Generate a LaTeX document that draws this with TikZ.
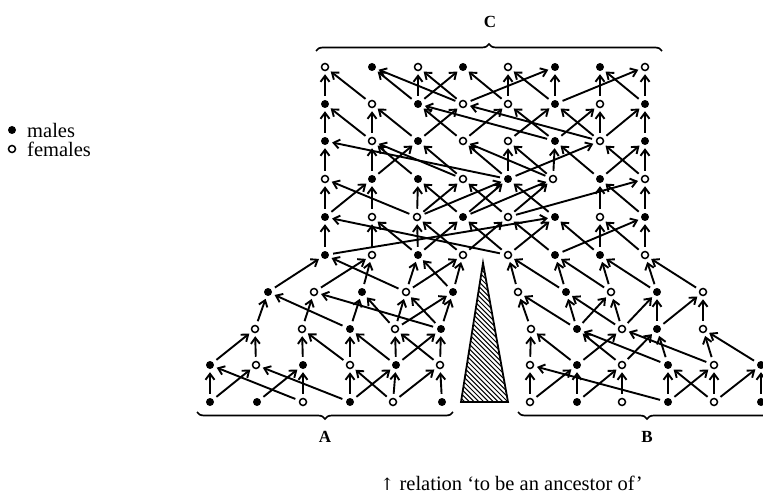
\documentclass[tikz,border=0pt]{standalone}
\usepackage{fontspec}
\setmainfont{Liberation Serif}
\newfontfamily\arrowfont{DejaVu Serif}
\usetikzlibrary{arrows.meta,decorations.pathreplacing}
\begin{document}
\begin{tikzpicture}[x=1pt,y=-1pt,
  fem/.style={circle,draw,line width=1.5pt,inner sep=0pt,minimum size=7pt,fill=white},
  mal/.style={circle,fill,inner sep=0pt,minimum size=8pt},
  anc/.style={line width=1.9pt,-{Straight Barb[length=6pt,width=9pt]},shorten <=4pt,shorten >=3pt},
  brc/.style={line width=1.7pt,decorate,decoration={brace,amplitude=7pt}},
  lbl/.style={font=\fontsize{17}{19}\selectfont\bfseries},
  txt/.style={font=\fontsize{20.5}{24}\selectfont,inner sep=0pt}
]
\useasboundingbox (0,0) rectangle (763,497);
% ---------- top block C ----------
\foreach \n/\s/\x/\y in {
 T11/fem/325/67,T12/mal/372/67,T13/fem/418/67,T14/mal/463/67,T15/fem/508/67,T16/mal/555/67,T17/mal/600/67,T18/fem/645/67,
 T21/mal/325/104,T22/fem/372/104,T23/mal/418/104,T24/fem/463/104,T25/fem/508/104,T26/mal/555/104,T27/fem/600/104,T28/mal/645/104,
 T31/mal/325/141,T32/fem/372/141,T33/mal/418/141,T34/fem/463/141,T35/fem/508/141,T36/mal/555/141,T37/fem/600/141,T38/mal/645/141,
 T41/fem/325/179,T42/mal/372/179,T43/mal/418/179,T44/fem/463/179,T45/mal/508/179,T46/fem/553/179,T47/mal/600/179,T48/fem/645/179,
 T51/mal/325/217,T52/fem/372/217,T53/fem/417/217,T54/mal/463/217,T55/fem/508/217,T56/mal/555/217,T57/fem/600/217,T58/mal/645/217,
 T61/mal/325/255,T62/fem/372/255,T63/mal/418/255,T64/fem/463/255,T65/fem/508/255,T66/mal/555/255,T67/mal/600/255,T68/fem/645/255,
% ---------- lower left A ----------
 A11/mal/268/292,A12/fem/314/292,A13/mal/362/292,A14/fem/406/292,A15/mal/453/292,
 A21/fem/255/329,A22/fem/302/329,A23/mal/350/329,A24/fem/395/329,A25/mal/441/329,
 A31/mal/210/365,A32/fem/256/365,A33/mal/303/365,A34/fem/350/365,A35/mal/396/365,A36/fem/440/365,
 A41/mal/210/402,A42/mal/257/402,A43/fem/303/402,A44/mal/350/402,A45/fem/393/402,A46/mal/442/402,
% ---------- lower right B ----------
 B11/fem/518/292,B12/mal/566/292,B13/fem/611/292,B14/mal/657/292,B15/fem/703/292,
 B21/fem/531/329,B22/mal/577/329,B23/fem/622/329,B24/mal/657/329,B25/fem/703/329,
 B31/fem/530/365,B32/mal/577/365,B33/fem/622/365,B34/mal/668/365,B35/fem/714/365,B36/mal/761/365,
 B41/fem/530/402,B42/mal/577/402,B43/fem/622/402,B44/mal/668/402,B45/fem/714/402,B46/mal/761/402}
 \node[\s] (\n) at (\x,\y) {};
% ---------- arrows (from ancestor to descendant) ----------
\foreach \a/\b in {
 T21/T11,T22/T11,T23/T12,T24/T12,T23/T13,T24/T13,T23/T14,T25/T14,T25/T15,T26/T15,T24/T16,T26/T16,T27/T17,T28/T17,T26/T18,T28/T18,
 T31/T21,T32/T21,T32/T22,T33/T22,T34/T23,T36/T23,T33/T24,T37/T24,T34/T25,T36/T25,T35/T26,T37/T26,T36/T27,T37/T27,T37/T28,T38/T28,
 T41/T31,T45/T31,T42/T32,T43/T32,T44/T32,T42/T33,T44/T33,T45/T34,T46/T34,T45/T35,T46/T35,T46/T36,T47/T36,T45/T37,T48/T37,T47/T38,T48/T38,
 T51/T41,T53/T41,T51/T42,T52/T42,T53/T43,T54/T43,T53/T44,T55/T44,T53/T45,T54/T45,T56/T45,T54/T46,T55/T46,T57/T47,T58/T47,T55/T48,T58/T48,
 T61/T51,T65/T51,T62/T52,T63/T52,T63/T53,T64/T53,T63/T54,T65/T54,T64/T55,T66/T55,T61/T56,T65/T56,T67/T56,T67/T57,T68/T57,T66/T58,T68/T58,
 A11/T61,A14/T61,A12/T62,A13/T62,A14/T63,A15/T63,A14/T64,A15/T64,
 B11/T65,B12/T65,B12/T66,B13/T66,B13/T67,B14/T67,B14/T68,B15/T68,
 A21/A11,A23/A11,A22/A12,A25/A12,A23/A13,A24/A13,A24/A14,A25/A14,A24/A15,A25/A15,
 A31/A21,A32/A21,A33/A22,A34/A22,A34/A23,A35/A23,A35/A24,A36/A24,A35/A25,A36/A25,
 A41/A31,A43/A31,A41/A32,A44/A32,A42/A33,A43/A33,A44/A34,A45/A34,A44/A35,A45/A35,A45/A36,A46/A36,
 B21/B11,B22/B11,B22/B12,B23/B12,B22/B13,B23/B13,B23/B14,B24/B14,B24/B15,B25/B15,
 B31/B21,B32/B21,B33/B22,B34/B22,B32/B23,B35/B23,B33/B24,B34/B24,B35/B25,B36/B25,
 B41/B31,B44/B31,B41/B32,B42/B32,B42/B33,B43/B33,B44/B34,B45/B34,B44/B35,B45/B35,B45/B36,B46/B36}
 \draw[anc] (\a) -- (\b);
% ---------- hatched triangle ----------
\coordinate (apex) at (483,263);
\coordinate (bl) at (461,402);
\coordinate (br) at (508,402);
\begin{scope}
 \clip (apex) -- (br) -- (bl) -- cycle;
 \foreach \k in {0,...,45} \draw[line width=1pt] (430,180+\k*4.8) -- ++(100,100);
\end{scope}
\draw[line width=1.8pt,line join=miter] (apex) -- (br) -- (bl) -- cycle;
% ---------- braces ----------
\coordinate (cL) at (316,51); \coordinate (cR) at (662,51);
\coordinate (aL) at (197,412); \coordinate (aR) at (453,412);
\coordinate (bL) at (518,412); \coordinate (bR) at (776,412);
\draw[brc] (cL) -- (cR);
\draw[brc] (aR) -- (aL);
\draw[brc] (bR) -- (bL);
\node[lbl] (labC) at (490,22) {C};
\node[lbl] (labA) at (325,437) {A};
\node[lbl] (labB) at (647,437) {B};
% ---------- legend ----------
\node[mal] (lm) at (12,130) {};
\node[txt,anchor=west] (lmt) at (27,130) {males};
\node[fem] (lf) at (12,149) {};
\node[txt,anchor=west] (lft) at (27,149) {females};
% ---------- caption ----------
\node[txt,anchor=west] (cap) at (380,483) {{\arrowfont\fontsize{17}{20}\selectfont ↑} relation ‘to be an ancestor of’};
\end{tikzpicture}
\end{document}
